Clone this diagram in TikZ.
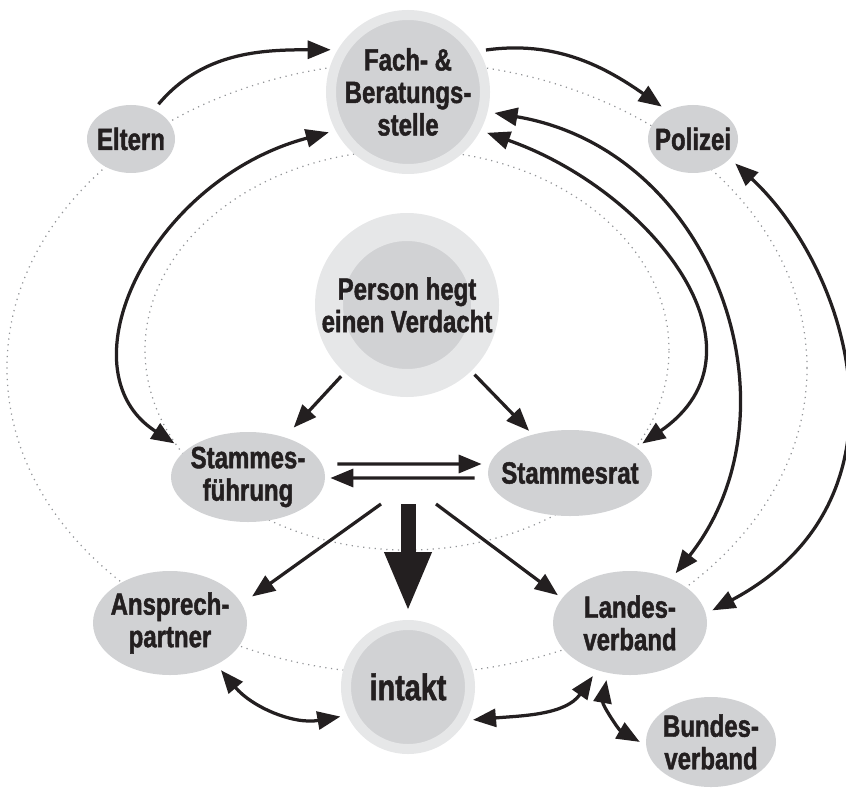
\documentclass[tikz,border=0pt]{standalone}
\usepackage{fontspec}
\setmainfont{Liberation Sans}[FakeStretch=0.78,FakeBold=1.4]
\usetikzlibrary{arrows.meta,shapes.geometric,calc}
\definecolor{ink}{HTML}{231F20}
\definecolor{core}{HTML}{D1D2D4}
\definecolor{halo}{HTML}{E6E7E8}
\definecolor{dots}{HTML}{939598}
\tikzset{
  >={Triangle[length=4.6mm,width=3.6mm]},
  blob/.style={ellipse,fill=core,inner sep=0pt},
  ring/.style={circle,draw=halo,fill=core,inner sep=0pt},
  txt/.style={font=\bfseries\fontsize{17.5}{18.5}\selectfont,align=center,text=ink,inner sep=0pt},
  arr/.style={->,draw=ink,line width=0.65mm,shorten >=1.4mm,shorten <=1.4mm},
  darr/.style={<->,draw=ink,line width=0.65mm,shorten >=1.4mm,shorten <=1.4mm},
  orbit/.style={draw=dots,line width=0.7pt,dash pattern=on 0.7pt off 2.6pt},
}

\begin{document}
\begin{tikzpicture}[x=0.2mm,y=0.2mm]
\useasboundingbox (0,0) rectangle (846,790);
% dotted orbits behind everything
\draw[orbit] (407,422) ellipse [x radius=400,y radius=306];
\draw[orbit] (407,440) ellipse [x radius=262,y radius=200];

% shapes
\node[ring,minimum size=30.8mm,line width=2mm] (F) at (408,698) {};
\node[ring,minimum size=31.2mm,line width=5.6mm] (P) at (407,485) {};
\node[ring,minimum size=24.8mm,line width=2mm] (I) at (408,103) {};
\node[blob,minimum width=17.6mm,minimum height=13.6mm] (E) at (131,651) {};
\node[blob,minimum width=18mm,minimum height=13.6mm] (Po) at (693,651) {};
\node[blob,minimum width=30.8mm,minimum height=18mm] (SF) at (248,313) {};
\node[blob,minimum width=32.8mm,minimum height=17.2mm] (SR) at (570,317) {};
\node[blob,minimum width=30.8mm,minimum height=20.8mm] (A) at (170,167) {};
\node[blob,minimum width=30.8mm,minimum height=20.8mm] (L) at (630,167) {};
\node[blob,minimum width=26mm,minimum height=18mm] (B) at (711,48) {};

% labels
\node[txt] (Ft) at (F) {Fach- \&\\Beratungs-\\stelle};
\node[txt] (Pt) at (P) {Person hegt\\einen Verdacht};
\node[txt,font=\bfseries\fontsize{21}{24}\selectfont] (It) at (I) {intakt};
\node[txt] (Et) at (E) {Eltern};
\node[txt] (Pot) at (Po) {Polizei};
\node[txt] (SFt) at (SF) {Stammes-\\führung};
\node[txt] (SRt) at (SR) {Stammesrat};
\node[txt] (At) at (A) {Ansprech-\\partner};
\node[txt] (Lt) at (L) {Landes-\\verband};
\node[txt] (Bt) at (B) {Bundes-\\verband};

% outer connections
\draw[arr] (E.52) to[out=50,in=180] (F.149);
\draw[arr] (F.30) to[out=8,in=145] (Po.132);
\draw[darr,shorten <=2.6mm] (SF.157) .. controls (60,420) and (150,610) .. (F.208);
\draw[darr] (F.-14) .. controls (715,640) and (805,380) .. (L.47);
\draw[darr] (F.-28) .. controls (650,600) and (778,440) .. (SR.21);
\draw[darr] (Po.-28) .. controls (850,520) and (920,290) .. (L.7);

% inner flow
\draw[arr,shorten >=2.6mm,shorten <=1mm] (P) -- (SF);
\draw[arr,shorten >=1mm,shorten <=1mm] (P) -- (SR);
\draw[arr,shorten <=2.4mm,shorten >=1.2mm] ([yshift=2.6mm]SF.east) -- ([yshift=1.8mm]SR.west);
\draw[arr,shorten <=2.6mm,shorten >=1mm] ([yshift=-1mm]SR.west) -- ([yshift=-0.2mm]SF.east);

\coordinate (split) at (408,286);
\draw[draw=ink,line width=3mm,-{Triangle[length=12mm,width=8.6mm]},shorten >=1.6mm] (split) -- (I);
\draw[arr,shorten <=0pt,shorten >=2.5mm] ([xshift=-5.4mm]split) -- (A.15);
\draw[arr,shorten <=0pt,shorten >=1mm] ([xshift=5.6mm]split) -- (L.160);

% bottom row
\draw[darr] (A.-42) to[out=-50,in=190] (I.205);
\draw[darr] (I.-30) to[out=5,in=-125] (L.235);
\draw[darr] (L.246) to[out=-100,in=150] (B.183);
\end{tikzpicture}
\end{document}
